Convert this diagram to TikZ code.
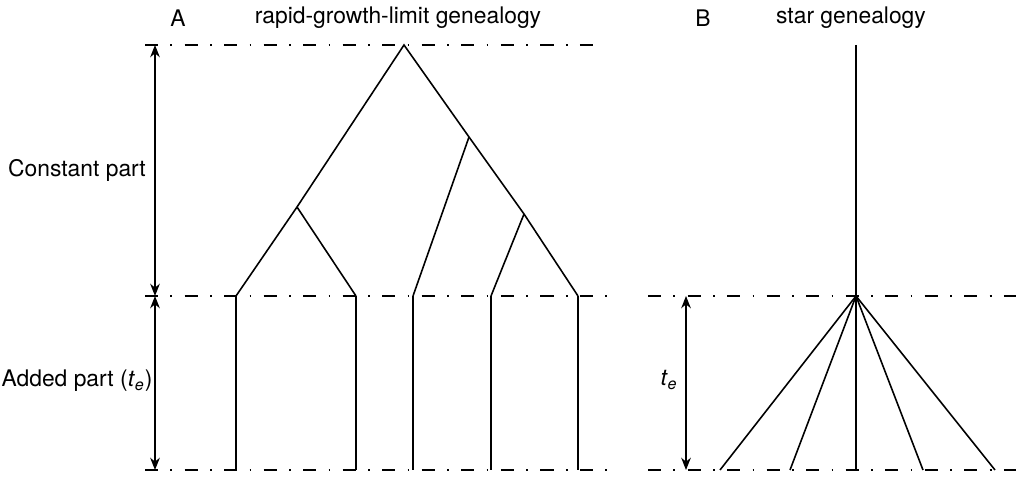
\documentclass[tikz,border=0pt]{standalone}
\usepackage{fontspec}
\setmainfont{TeX Gyre Heros}
\usetikzlibrary{arrows.meta,positioning}

\begin{document}
\begin{tikzpicture}[x=0.02cm,y=-0.02cm,>={Stealth[length=7pt,width=5.5pt]},
  dashdot/.style={line width=0.7pt,dash pattern=on 7.5pt off 7pt on 1pt off 7pt},
  branch/.style={line width=0.9pt},
  dim/.style={line width=0.7pt,<->},
  lbl/.style={font=\fontsize{13}{15}\selectfont,inner sep=0pt}]
\useasboundingbox (0,0) rectangle (1016,476);

% time levels
\draw[dashdot] (145,45) -- (600,45);
\draw[dashdot] (145,296) -- (610,296);
\draw[dashdot] (145,470) -- (610,470);
\draw[dashdot] (648,296) -- (1016,296);
\draw[dashdot] (648,470) -- (1016,470);

% A: rapid-growth-limit tree
\coordinate (root) at (404,45);
\coordinate (nL) at (297,207);
\coordinate (nR) at (469,137);
\coordinate (nRR) at (524,214);
\coordinate (l1) at (236,296);
\coordinate (l2) at (356,296);
\coordinate (l3) at (413,296);
\coordinate (l4) at (491,296);
\coordinate (l5) at (578,296);
\draw[branch] (l1) -- (nL) -- (root) -- (nR) -- (nRR) -- (l5);
\draw[branch] (nL) -- (l2);
\draw[branch] (nR) -- (l3);
\draw[branch] (nRR) -- (l4);
\foreach \p in {l1,l2,l3,l4,l5}
  \draw[branch] (\p) -- (\p |- 0,470);

% B: star tree
\coordinate (stop) at (856,45);
\coordinate (hub) at (856,296);
\draw[branch] (stop) -- (hub) -- (856,470);
\foreach \x in {720,790,923,995}
  \draw[branch] (hub) -- (\x,470);

% extents
\coordinate (dTop) at (155,45);
\coordinate (dMid) at (155,296);
\coordinate (dBot) at (155,470);
\coordinate (eMid) at (686,296);
\coordinate (eBot) at (686,470);
\draw[dim] (dTop) -- (dMid);
\draw[dim] (dMid) -- (dBot);
\draw[dim] (eMid) -- (eBot);

% labels
\node[lbl] (labA) at (178,18) {A};
\node[lbl] (titA) at (398,18) {rapid-growth-limit genealogy};
\node[lbl] (labB) at (703,18) {B};
\node[lbl] (titB) at (851,18) {star genealogy};
\node[lbl] (const) at (77,170) {Constant part};
\node[lbl] (added) at (77,381) {Added part (\textit{t}\textsubscript{\textit{e}})};
\node[lbl] (te) at (669,380) {\textit{t}\textsubscript{\textit{e}}};
\end{tikzpicture}
\end{document}
